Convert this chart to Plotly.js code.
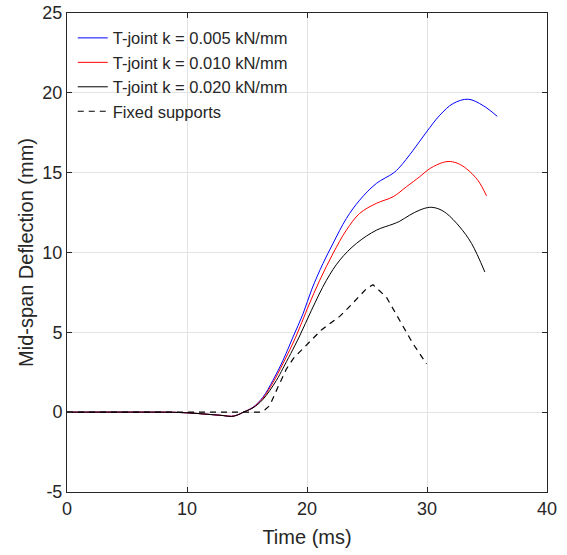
<!DOCTYPE html>
<html>
<head>
<meta charset="utf-8">
<script src="https://cdn.plot.ly/plotly-3.0.1.min.js"></script>
<style>html,body{margin:0;padding:0;background:#fff;}#chart{width:567px;height:555px;}</style>
</head>
<body>
<div id="chart"></div>
<script>
const seriesNames = ["T-joint k = 0.005 kN/mm", "T-joint k = 0.010 kN/mm", "T-joint k = 0.020 kN/mm", "Fixed supports"];

const blueX = [0, 8, 9, 10, 11, 12, 13, 13.7, 14.2, 14.7, 15.5, 16.33, 17.16, 18.0, 18.83, 19.67, 20.4, 21.33, 22.17, 23.28, 24.39, 25.79, 27.17, 27.73, 28.84, 29.96, 31.07, 32.18, 33.43, 34.68, 35.85];
const blueY = [0, 0, -0.01, -0.04, -0.09, -0.15, -0.21, -0.26, -0.18, 0.0, 0.31, 0.94, 1.99, 3.24, 4.7, 6.16, 7.7, 9.31, 10.57, 12.13, 13.28, 14.33, 14.96, 15.35, 16.4, 17.55, 18.6, 19.33, 19.6, 19.2, 18.53];

const redX = [0, 8, 9, 10, 11, 12, 13, 13.7, 14.2, 14.7, 15.5, 16.33, 17.16, 18.0, 19.06, 20.08, 21.06, 22.17, 23.28, 24.39, 25.79, 27.17, 28.29, 29.4, 30.09, 31.0, 31.76, 32.5, 33.3, 34.26, 34.96];
const redY = [0, 0, -0.01, -0.04, -0.09, -0.15, -0.21, -0.26, -0.18, 0.0, 0.29, 0.88, 1.85, 3.05, 4.7, 6.58, 8.26, 9.94, 11.4, 12.45, 13.08, 13.49, 14.12, 14.75, 15.18, 15.55, 15.7, 15.6, 15.24, 14.5, 13.55];

const blackX = [0, 8, 9, 10, 11, 12, 13, 13.7, 14.2, 14.7, 15.5, 16.33, 17.45, 18.0, 19.34, 20.37, 21.62, 22.73, 24.12, 25.79, 27.17, 27.73, 28.56, 29.4, 30.23, 30.9, 31.62, 32.73, 33.71, 34.82];
const blackY = [0, 0, -0.01, -0.04, -0.09, -0.15, -0.21, -0.27, -0.18, 0.0, 0.27, 0.8, 1.99, 2.75, 4.7, 6.38, 8.26, 9.52, 10.57, 11.4, 11.78, 11.96, 12.34, 12.66, 12.83, 12.75, 12.45, 11.6, 10.57, 8.78];

const fixedX = [0, 16.06, 16.5, 16.9, 17.58, 18.28, 18.9, 19.67, 20.4, 21.2, 22.0, 22.73, 23.4, 24.12, 24.95, 25.5, 26.62, 27.73, 28.84, 29.96];
const fixedY = [0, 0, 0.15, 0.42, 1.57, 2.7, 3.4, 4.0, 4.55, 5.15, 5.6, 6.0, 6.5, 7.05, 7.73, 7.98, 7.2, 5.74, 4.28, 3.03];

const xTicks = [0, 10, 20, 30, 40];
const yTicks = [-5, 0, 5, 10, 15, 20, 25];

const font = "Arial, 'Liberation Sans', sans-serif";

const traces = [
  {x: blueX, y: blueY, name: seriesNames[0], mode: "lines", line: {color: "#0000ff", width: 1, shape: "spline"}},
  {x: redX, y: redY, name: seriesNames[1], mode: "lines", line: {color: "#ff0000", width: 1, shape: "spline"}},
  {x: blackX, y: blackY, name: seriesNames[2], mode: "lines", line: {color: "#000000", width: 1, shape: "spline"}},
  {x: fixedX, y: fixedY, name: seriesNames[3], mode: "lines", line: {color: "#000000", width: 1.2, dash: "6px,5px"}}
];

const axisCommon = {
  showline: true, linecolor: "#262626", linewidth: 1, mirror: "ticks",
  ticks: "inside", ticklen: 5, tickcolor: "#262626",
  showgrid: true, gridcolor: "#e3e3e3", gridwidth: 1,
  zeroline: false,
  tickfont: {family: font, size: 18, color: "#262626"}
};

const layout = {
  width: 567, height: 555,
  margin: {l: 67, r: 20, t: 13, b: 63},
  paper_bgcolor: "#ffffff", plot_bgcolor: "#ffffff",
  showlegend: true,
  legend: {x: 0.012, y: 0.984, xanchor: "left", yanchor: "top", bgcolor: "rgba(255,255,255,0)", borderwidth: 0,
           font: {family: font, size: 16.5, color: "#262626"}, tracegroupgap: 0},
  xaxis: Object.assign({}, axisCommon, {range: [0, 40], tickvals: xTicks, ticktext: xTicks.map(String),
    title: {text: "Time (ms)", font: {family: font, size: 20, color: "#262626"}, standoff: 12}}),
  yaxis: Object.assign({}, axisCommon, {range: [-5, 25], tickvals: yTicks, ticktext: yTicks.map(String),
    title: {text: "Mid-span Deflection (mm)", font: {family: font, size: 20, color: "#262626"}, standoff: 3}})
};

Plotly.newPlot("chart", traces, layout, {displayModeBar: false, staticPlot: true});
</script>
</body>
</html>
